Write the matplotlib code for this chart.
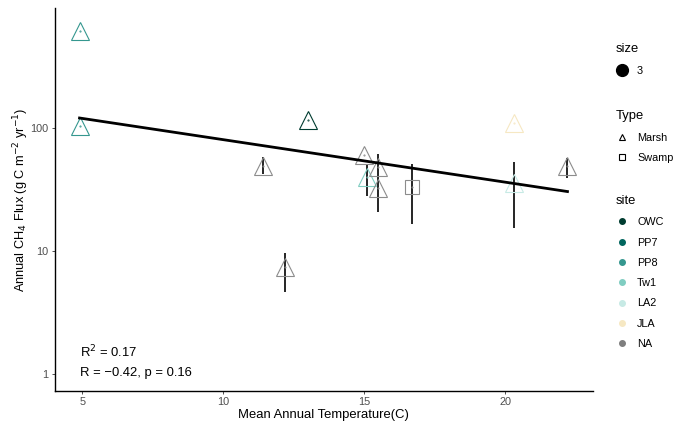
import numpy as np
import matplotlib.pyplot as plt
from matplotlib.lines import Line2D

plt.rcParams['font.family'] = ['Liberation Sans', 'DejaVu Sans']

# 数据
temp = [4.9, 4.9, 13.0, 11.4, 12.2, 15.0, 15.1, 15.5, 15.5, 16.7, 20.3, 20.3, 22.2]
flux = [615, 104, 116, 49, 7.4, 60, 40, 48, 32.5, 33, 110, 35.7, 49]
flux_lo = [np.nan, np.nan, np.nan, 42, 4.6, np.nan, 28, 20.7, np.nan, 16.5, np.nan, 15.4, 39]
flux_hi = [np.nan, np.nan, np.nan, 58, 9.6, np.nan, 50, 61.5, np.nan, 51, np.nan, 53, 57]
site = ['PP8', 'PP8', 'OWC', 'NA', 'NA', 'NA', 'Tw1', 'NA', 'NA', 'NA', 'JLA', 'LA2', 'NA']
wtype = ['Marsh'] * 9 + ['Swamp'] + ['Marsh'] * 3

site_names = ['OWC', 'PP7', 'PP8', 'Tw1', 'LA2', 'JLA', 'NA']
site_colors = ['#003c30', '#01665e', '#35978f', '#80cdc1', '#c7eae5', '#f6e8c3', '#7f7f7f']
type_names = ['Marsh', 'Swamp']
type_markers = {'Marsh': '^', 'Swamp': 's'}

col = dict(zip(site_names, site_colors))

fig = plt.figure(figsize=(6.74, 4.23), dpi=100)
ax = fig.add_axes([0.0816, 0.0757, 0.798, 0.905])

# 误差线
for x, lo, hi in zip(temp, flux_lo, flux_hi):
    if not np.isnan(lo):
        ax.vlines(x, lo, hi, color='black', lw=1.2, zorder=2)

# 点
for x, y, s, t in zip(temp, flux, site, wtype):
    ms = 12.5 if t == 'Marsh' else 9.5
    ec = col[s] if s != 'NA' else '#8c8c8c'
    ax.plot(x, y, marker=type_markers[t], ms=ms, mfc='none', mec=ec, mew=0.8, ls='none', zorder=3)
    ax.plot(x, y, marker='.', ms=1, color=ec, ls='none', zorder=3)

# 线性回归（log10 尺度）
lx = np.array(temp)
ly = np.log10(np.array(flux))
b, a = np.polyfit(lx, ly, 1)
xs = np.array([min(temp), max(temp)])
ax.plot(xs, 10 ** (a + b * xs), color='black', lw=2, zorder=4)

ax.set_yscale('log')
ax.set_xlim(4.03, 23.1)
ax.set_ylim(0.727, 946)
ax.set_yticks([1, 10, 100])
ax.set_yticklabels(['1', '10', '100'])
ax.yaxis.set_minor_locator(plt.NullLocator())
ax.set_xticks([5, 10, 15, 20])
ax.tick_params(labelsize=7.8, colors='#333333', labelcolor='#4d4d4d', length=2.5, width=0.6, pad=2)
for sp in ['top', 'right']:
    ax.spines[sp].set_visible(False)
for sp in ['left', 'bottom']:
    ax.spines[sp].set_linewidth(1.0)

ax.set_xlabel('Mean Annual Temperature(C)', fontsize=9.4, labelpad=1)
ax.set_ylabel('Annual CH$_4$ Flux (g C m$^{-2}$ yr$^{-1}$)', fontsize=9.2, labelpad=0)

ax.text(0.046, 0.102, 'R$^2$ = 0.17', transform=ax.transAxes, fontsize=9.4, va='center')
ax.text(0.046, 0.047, 'R = \u22120.42, p = 0.16', transform=ax.transAxes, fontsize=9.4, va='center')

# 图例
lg_kw = dict(frameon=False, fontsize=7.8, title_fontsize=9.4, alignment='left',
             handlelength=1.2, handletextpad=0.8, labelspacing=0.95, borderpad=0)
h1 = [Line2D([], [], marker='o', ls='none', color='black', ms=8.5)]
l1 = fig.legend(h1, ['3'], title='size', loc='upper left', bbox_to_anchor=(0.905, 0.91), **lg_kw)
h2 = [Line2D([], [], marker=type_markers[t], ls='none', mfc='none', mec='black', ms=4, mew=0.8) for t in type_names]
l2 = fig.legend(h2, type_names, title='Type', loc='upper left', bbox_to_anchor=(0.905, 0.752), **lg_kw)
h3 = [Line2D([], [], marker='o', ls='none', color=c, ms=4) for c in site_colors]
l3 = fig.legend(h3, site_names, title='site', loc='upper left', bbox_to_anchor=(0.905, 0.552), **lg_kw)

fig.savefig('out.png', dpi=100)
